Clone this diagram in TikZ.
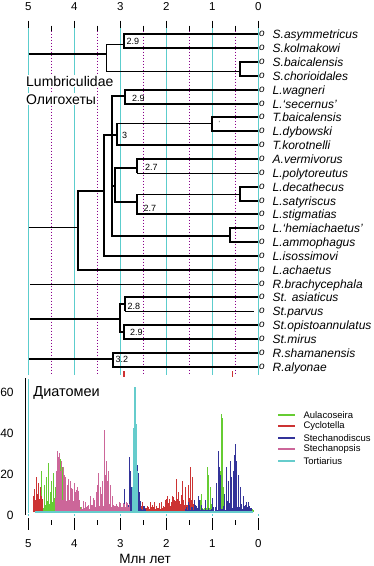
\documentclass[tikz,border=0pt]{standalone}
\usepackage{fontspec}
\setmainfont{Liberation Sans}
\definecolor{gridteal}{HTML}{5CCDCD}
\definecolor{gridpurple}{HTML}{8B008B}
\definecolor{agreen}{HTML}{66CC33}
\definecolor{cred}{HTML}{CC3333}
\definecolor{sblue}{HTML}{333399}
\definecolor{spink}{HTML}{CC6699}
\definecolor{tteal}{HTML}{66CCCC}
\newcommand\noisebars[5]{%
  \pgfmathtruncatemacro\nbn{((#3)-(#2))/0.8}%
  \foreach \nbi in {0,...,\nbn}{%
    \pgfmathsetmacro\nbx{#2+0.8*\nbi}%
    \pgfmathsetmacro\nbh{#4+(#5-#4)*rnd*rnd}%
    \draw[#1,bar] (\nbx,512) -- ++(0,-2.05*\nbh);%
  }%
}
\newcommand\spikebars[2]{%
  \foreach \sx/\sv in {#2}{\draw[#1,bar] (\sx,512) -- ++(0,-2.05*\sv);}%
}
\begin{document}
\begin{tikzpicture}[x=1pt,y=-1pt,
  thk/.style={line width=1.9pt},
  thn/.style={line width=0.9pt},
  bar/.style={line width=0.8pt},
  leafo/.style={anchor=base west, inner sep=0pt, font=\fontsize{10}{10}\selectfont\itshape},
  leafname/.style={anchor=base west, inner sep=0pt, font=\fontsize{12}{12}\selectfont\itshape},
  btag/.style={anchor=west, inner sep=0pt, font=\fontsize{9}{9}\selectfont},
  axlab/.style={inner sep=0pt, font=\fontsize{11.5}{11.5}\selectfont},
  bigtext/.style={anchor=west, inner sep=1pt, font=\fontsize{14}{14}\selectfont},
  legtext/.style={anchor=west, inner sep=0pt, font=\fontsize{9.5}{9.5}\selectfont},
]
\useasboundingbox (0,0) rectangle (374,566);
\pgfmathsetseed{7}

% ---------- grid and axes ----------
\foreach \t in {0,...,5}{
  \pgfmathsetmacro\xx{258.3-46*\t}
  \node[axlab] (ta\t) at (\xx,6.5) {\t};
  \draw[black, line width=0.8pt] (\xx,20.5) -- (\xx,28.3);
  \draw[gridteal, line width=1pt] (\xx,28.3) -- (\xx,375);
  \draw[black, line width=0.8pt] (\xx,518) -- (\xx,530);
  \draw[gridteal, line width=1pt] (\xx,514) -- (\xx,516);
  \node[axlab] (ba\t) at (\xx,543.5) {\t};
}
\foreach \t in {0.5,1.5,...,4.5}{
  \pgfmathsetmacro\xx{258.3-46*\t}
  \draw[black, line width=0.7pt] (\xx,25.7) -- (\xx,30.7);
  \draw[gridpurple, line width=0.8pt, dash pattern=on 1.5pt off 1.5pt] (\xx,30.7) -- (\xx,375);
  \draw[black, line width=0.7pt] (\xx,520) -- (\xx,525);
}
\draw[cred, line width=1.6pt] (124,371) -- (124,376.5);
\draw[cred, line width=1.6pt] (232.3,371) -- (232.3,376.5);

% ---------- leaves ----------
\foreach \i/\nm in {1/S.asymmetricus, 2/S.kolmakowi, 3/S.baicalensis, 4/S.chorioidales,
  5/L.wagneri, 6/L.‘secernus’, 7/T.baicalensis, 8/L.dybowski, 9/T.korotnelli,
  10/A.vermivorus, 11/L.polytoreutus, 12/L.decathecus, 13/L.satyriscus, 14/L.stigmatias,
  15/L.‘hemiachaetus’, 16/L.ammophagus, 17/L.isossimovi, 18/L.achaetus,
  19/R.brachycephala, 20/St. asiaticus, 21/St.parvus, 22/St.opistoannulatus,
  23/St.mirus, 24/R.shamanensis, 25/R.alyonae}{
  \pgfmathsetmacro\yy{round(34.3+13.85*(\i-1))}
  \coordinate (l\i) at (258,\yy);
  \node[leafo] (o\i) at (258.8,\yy+2.4) {o};
  \node[leafname] (t\i) at (272.5,\yy+4.3) {\nm};
}

% ---------- group 1 ----------
\coordinate (r1) at (28.5,54);
\coordinate (n1) at (106,54);
\coordinate (n2) at (124,44);
\coordinate (n3) at (240,71);
\draw[thk] (r1) -- (n1);
\draw[thn] (n1) |- (n2);
\draw[thn] (n1) |- (n3);
\draw[thk] (l1) -| (n2) |- (l2);
\draw[thk] (l3) -| (n3) |- (l4);

% ---------- group 2 ----------
\coordinate (r2) at (28.5,227);
\coordinate (n4) at (78,227);
\coordinate (n5) at (104,191);
\coordinate (n6) at (112,135);
\coordinate (n7) at (117,135);
\coordinate (n7t) at (117,123);
\coordinate (ntb) at (212,123);
\coordinate (nwag) at (125,96);
\coordinate (n8) at (115,186);
\coordinate (n9) at (137,168);
\coordinate (n9b) at (137,173);
\coordinate (n10) at (137,202);
\coordinate (n10t) at (137,194);
\coordinate (ndec) at (240,194);
\coordinate (nhem) at (230,236);
\draw[thn] (r2) -- (n4);
\draw[thk] (n4) |- (n5);
\draw[thk] (n4) |- (l18);
\draw[thk] (n5) |- (n6);
\draw[thk] (n5) |- (l17);
\draw[thk] (n6) -- (n7);
\draw[thk] (n7) -- (n7t);
\draw[thk] (n7) |- (l9);
\draw[thn] (n7t) -- (ntb);
\draw[thk] (l7) -| (ntb) |- (l8);
\draw[thk] (n6) |- (nwag);
\draw[thk] (l5) -| (nwag) |- (l6);
\draw[thk] (n6) |- (n8);
\draw[thk] (n8) |- (n9);
\draw[thk] (n8) |- (n10);
\draw[thk] (l10) -| (n9) -- (n9b);
\draw[thn] (n9b) -- (l11);
\draw[thk] (n10t) |- (l14);
\draw[thn] (n10t) -- (ndec);
\draw[thk] (l12) -| (ndec) |- (l13);
\draw[thk] (n6) |- (nhem);
\draw[thk] (l15) -| (nhem) |- (l16);

% ---------- group 3 ----------
\coordinate (r3) at (30,284);
\draw[thn] (r3) -- (l19);
\coordinate (r4) at (30,319);
\coordinate (n11) at (120,319);
\coordinate (n12) at (125,304);
\coordinate (n12b) at (125,311);
\coordinate (l21e) at (253.5,311);
\coordinate (n13) at (124,332);
\coordinate (r5) at (29,359);
\coordinate (n14) at (113,359);
\draw[thk] (r4) -- (n11);
\draw[thk] (n11) |- (n12);
\draw[thk] (n11) |- (n13);
\draw[thk] (l20) -| (n12) -- (n12b);
\draw[thn] (n12b) -- (l21e);
\draw[thk] (l22) -| (n13) |- (l23);
\draw[thk] (r5) -- (n14);
\draw[thk] (l24) -| (n14) |- (l25);

% ---------- branch tags ----------
\node[btag] (b1) at (126.3,41.7) {2.9};
\node[btag] (b2) at (132,98) {2.9};
\node[btag] (b3) at (122,135.5) {3};
\node[btag] (b4) at (145,167.7) {2.7};
\node[btag] (b5) at (143.3,208.3) {2.7};
\node[btag] (b6) at (127.3,306.5) {2.8};
\node[btag] (b7) at (130,332.7) {2.9};
\node[btag] (b8) at (115.5,359.3) {3.2};
\node[btag, font=\fontsize{6}{6}\selectfont] (b9) at (218.5,123) {'};

\node[bigtext, fill=white] (lumb) at (25,81.3) {Lumbriculidae};
\node[bigtext, fill=white] (olig) at (25,99.2) {Олигохеты};

% ---------- diatom chart ----------
\draw[gridteal, line width=1pt] (28.3,379) -- (28.3,513);
\draw[black, line width=0.8pt] (25.7,378.3) -- (25.7,515);
\node[axlab, anchor=east, font=\fontsize{12}{12}\selectfont] (y60) at (13.8,392.7) {60};
\node[axlab, anchor=east, font=\fontsize{12}{12}\selectfont] (y40) at (13.8,433.3) {40};
\node[axlab, anchor=east, font=\fontsize{12}{12}\selectfont] (y20) at (13.8,474) {20};
\node[axlab, anchor=east, font=\fontsize{12}{12}\selectfont] (y0) at (13.8,515.7) {0};
\node[bigtext, inner sep=0pt, font=\fontsize{14.5}{14.5}\selectfont] (diat) at (33.3,392.7) {Диатомеи};
\node[axlab, font=\fontsize{13.5}{13.5}\selectfont] (mln) at (145,559) {Млн лет};

% Aulacoseira
\noisebars{agreen}{33}{36}{0.5}{2}
\noisebars{agreen}{40}{57}{2}{12}
\noisebars{agreen}{57}{66}{1}{8}
\noisebars{agreen}{66}{82}{0.5}{4}
\noisebars{agreen}{82}{110}{0.3}{2.5}
\noisebars{agreen}{200}{212}{1}{8}
\noisebars{agreen}{252}{254}{1}{3}
\spikebars{agreen}{41.5/20,44/13,46.5/17,48.3/24,50/10,51.5/15,53/19,55/12,58/14,60.3/26,62/22,63.5/16,201.7/9,207.3/22,208.5/18,210/12,220.7/20,221.3/48,222.3/46,223/12}
% Cyclotella
\noisebars{cred}{33}{43}{6}{12}
\spikebars{cred}{34/11,36.7/17,38.5/14,40/12}
\noisebars{cred}{140}{165}{1.5}{6}
\noisebars{cred}{165}{193}{3}{11}
\spikebars{cred}{172/8,176.7/16,178/10,182.7/15,185/12,188/13,190.7/22,192/17}
\noisebars{cred}{193}{200}{1}{4}
\spikebars{cred}{231.5/3,235/3}
% Stechanodiscus
\noisebars{sblue}{128}{140}{2}{9}
\noisebars{sblue}{140}{146}{1}{6}
\noisebars{sblue}{185}{215}{0.5}{5}
\noisebars{sblue}{215}{250}{1}{8}
\noisebars{sblue}{243}{252}{0.5}{3}
\spikebars{sblue}{124/11,126/3,129.3/27,130.5/20,131.5/12,137.7/23,138.7/19,139.5/10,188/5,194/6,198.3/8,199/6,205/6,212/7,216.7/14,218.3/30,219.5/22,220.2/18,224/9,226.7/22,228/15,230/25,231/17,233.3/20,234.3/28,235.3/33,236/25,238/18,240/12,243/8,246/5}
% Stechanopsis
\noisebars{spink}{55}{79}{5}{15}
\spikebars{spink}{56/20,57.3/30,58.3/27,59.3/29,60.5/20,61.7/25,63/22,64/18,65.5/17,67/13,68/16,70/15,72/11,74/14,76/10,77.5/12}
\noisebars{spink}{79}{112}{1.5}{6}
\spikebars{spink}{85/5,90/8,93/7,96/10,97.5/13,98.3/19,100/12,101.5/9,102.5/15,104.2/40,105.5/18,106.7/25,107.5/15,108.3/20,110/13,112/8}
\noisebars{spink}{112}{130}{2.5}{6}
% Tortiarius
\draw[tteal, line width=1.8pt] (35,512) -- (253,512);
\spikebars{tteal}{132.5/12,133.2/41,134/61,134.8/61,135.6/61,136.3/43,137/20}

% legend
\foreach \i/\c/\nm/\ly in {0/agreen/Aulacoseira/415,1/cred/Cyclotella/426,2/sblue/Stechanodiscus/438,3/spink/Stechanopsis/449,4/tteal/Tortiarius/461}{
  \coordinate (lga\i) at (278.3,\ly);
  \coordinate (lgb\i) at (295,\ly);
  \draw[\c, line width=1.6pt] (lga\i) -- (lgb\i);
  \node[legtext] (lgt\i) at (303.3,\ly) {\nm};
}
\end{tikzpicture}
\end{document}
